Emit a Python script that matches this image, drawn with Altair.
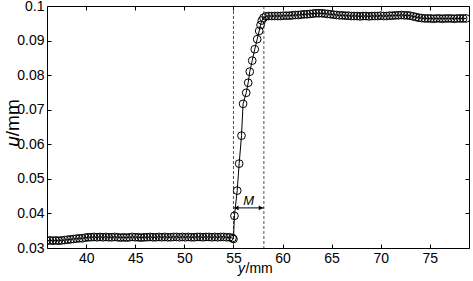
import altair as alt
import pandas as pd

FONT = "Liberation Sans"

# ---- data ----
low_y = [36.0, 36.3, 36.6, 36.9, 37.2, 37.5, 37.8,
         38.1, 38.4, 38.7, 39.0, 39.3, 39.6, 39.9,
         40.2, 40.5, 40.8, 41.1, 41.4, 41.7, 42.0, 42.3, 42.6, 42.9,
         43.2, 43.5, 43.8, 44.1, 44.4, 44.7, 45.0, 45.3, 45.6, 45.9,
         46.2, 46.5, 46.8, 47.1, 47.4, 47.7, 48.0, 48.3, 48.6, 48.9,
         49.2, 49.5, 49.8, 50.1, 50.4, 50.7, 51.0, 51.3, 51.6, 51.9,
         52.2, 52.5, 52.8, 53.1, 53.4, 53.7, 54.0, 54.3, 54.6, 54.9]
low_u = [0.0321, 0.0322, 0.0321, 0.0322, 0.0321, 0.0322, 0.0323,
         0.0324, 0.0325, 0.0326, 0.0327, 0.0328, 0.0328, 0.0330,
         0.0331, 0.0331, 0.0332, 0.0331, 0.0332, 0.0331, 0.0332, 0.0331, 0.0331, 0.0332,
         0.0331, 0.0330, 0.0331, 0.0330, 0.0331, 0.0332, 0.0331, 0.0331, 0.0330, 0.0331,
         0.0331, 0.0332, 0.0331, 0.0331, 0.0332, 0.0331, 0.0332, 0.0331, 0.0331, 0.0332,
         0.0332, 0.0331, 0.0332, 0.0331, 0.0332, 0.0331, 0.0331, 0.0332, 0.0332, 0.0331,
         0.0332, 0.0332, 0.0331, 0.0332, 0.0331, 0.0332, 0.0332, 0.0331, 0.0331, 0.0329]

rise_y = [55.0, 55.1, 55.38, 55.58, 55.82, 55.98, 56.3, 56.5, 56.66, 56.91,
          57.17, 57.42, 57.62, 57.76, 57.89, 58.06]
rise_u = [0.0326, 0.0393, 0.0466, 0.0544, 0.0625, 0.0717, 0.0749, 0.0778, 0.0810, 0.0842,
          0.0875, 0.0904, 0.0928, 0.0945, 0.0958, 0.0966]

high_y = [58.3, 58.6, 58.9, 59.2, 59.5, 59.8, 60.1, 60.4, 60.7, 61.0,
          61.3, 61.6, 61.9, 62.2, 62.5, 62.8, 63.1, 63.4, 63.7, 64.0,
          64.3, 64.6, 64.9, 65.2, 65.5, 65.8, 66.1, 66.4, 66.7, 67.0,
          67.3, 67.6, 67.9, 68.2, 68.5, 68.8, 69.1, 69.4, 69.7, 70.0,
          70.3, 70.6, 70.9, 71.2, 71.5, 71.8, 72.1, 72.4, 72.7, 73.0,
          73.3, 73.6, 73.9, 74.2, 74.5, 74.8, 75.1, 75.4, 75.7, 76.0,
          76.3, 76.6, 76.9, 77.2, 77.5, 77.8, 78.1, 78.4, 78.7]
high_u = [0.0970, 0.0971, 0.0971, 0.0971, 0.0971, 0.0971, 0.0972, 0.0972, 0.0972, 0.0973,
          0.0974, 0.0974, 0.0975, 0.0976, 0.0976, 0.0977, 0.0978, 0.0979, 0.0979, 0.0979,
          0.0978, 0.0977, 0.0976, 0.0975, 0.0974, 0.0973, 0.0973, 0.0972, 0.0972, 0.0971,
          0.0971, 0.0971, 0.0970, 0.0971, 0.0971, 0.0970, 0.0971, 0.0971, 0.0971, 0.0972,
          0.0971, 0.0971, 0.0972, 0.0972, 0.0973, 0.0973, 0.0974, 0.0973, 0.0973, 0.0972,
          0.0970, 0.0968, 0.0966, 0.0965, 0.0964, 0.0964, 0.0964, 0.0963, 0.0964, 0.0964,
          0.0963, 0.0964, 0.0964, 0.0964, 0.0963, 0.0964, 0.0964, 0.0964, 0.0964]

x_ticks = [40, 45, 50, 55, 60, 65, 70, 75]
y_ticks = [0.03, 0.04, 0.05, 0.06, 0.07, 0.08, 0.09, 0.1]
x_domain = [36, 79]
y_domain = [0.03, 0.1]

m_left, m_right = 55.0, 58.1      # dashed boundary lines
arrow_u = 0.0416
m_label = ("M", 56.55, 0.0437)

W, H = 422, 242

all_y = low_y + rise_y + high_y
all_u = low_u + rise_u + high_u
df = pd.DataFrame({"y": all_y, "u": all_u, "order": list(range(len(all_y)))})

xs = alt.Scale(domain=x_domain, nice=False, zero=False)
ys = alt.Scale(domain=y_domain, nice=False, zero=False)

common_lab = dict(labelFontSize=14, labelFont=FONT, labelColor="black",
                  grid=False, title=None, ticks=False, domain=False, labelOverlap=False)
x_lab = alt.Axis(orient="bottom", values=x_ticks, labelPadding=3, labelFlush=False, **common_lab)
y_lab = alt.Axis(orient="left", values=y_ticks, format=".2~f", labelPadding=3, **common_lab)

common_tick = dict(labels=False, ticks=True, tickSize=4, tickColor="black", tickWidth=1,
                   domain=False, grid=False, title=None)
x_t_bottom = alt.Axis(orient="top", offset=-H, values=x_ticks, **common_tick)
x_t_top = alt.Axis(orient="bottom", offset=-H, values=x_ticks, **common_tick)
y_t_left = alt.Axis(orient="right", offset=-W, values=y_ticks, **common_tick)
y_t_right = alt.Axis(orient="left", offset=-W, values=y_ticks, **common_tick)

line = alt.Chart(df).mark_line(color="black", strokeWidth=1).encode(
    x=alt.X("y:Q", scale=xs, axis=x_lab),
    y=alt.Y("u:Q", scale=ys, axis=y_lab),
    order="order:Q",
)
points = alt.Chart(df).mark_point(shape="circle", filled=False, color="black",
                                  size=60, strokeWidth=1, clip=True, opacity=1).encode(
    x=alt.X("y:Q", scale=xs, axis=None),
    y=alt.Y("u:Q", scale=ys, axis=None),
)
ticks1 = alt.Chart(df).mark_point(opacity=0).encode(
    x=alt.X("y:Q", scale=xs, axis=x_t_bottom),
    y=alt.Y("u:Q", scale=ys, axis=y_t_left),
)
ticks2 = alt.Chart(df).mark_point(opacity=0).encode(
    x=alt.X("y:Q", scale=xs, axis=x_t_top),
    y=alt.Y("u:Q", scale=ys, axis=y_t_right),
)

vdf = pd.DataFrame({"y": [m_left, m_right]})
vlines = alt.Chart(vdf).mark_rule(color="#222", strokeWidth=0.8, strokeDash=[3, 2]).encode(
    x=alt.X("y:Q", scale=xs, axis=None)
)

adf = pd.DataFrame({"y": [m_left], "y2": [m_right], "u": [arrow_u]})
arrow = alt.Chart(adf).mark_rule(color="black", strokeWidth=1).encode(
    x=alt.X("y:Q", scale=xs, axis=None), x2="y2:Q",
    y=alt.Y("u:Q", scale=ys, axis=None),
)
hl = alt.Chart(pd.DataFrame({"y": [m_left], "u": [arrow_u]})).mark_point(
    shape="triangle-left", filled=True, color="black", size=24, xOffset=3, opacity=1).encode(
    x=alt.X("y:Q", scale=xs, axis=None), y=alt.Y("u:Q", scale=ys, axis=None))
hr = alt.Chart(pd.DataFrame({"y": [m_right], "u": [arrow_u]})).mark_point(
    shape="triangle-right", filled=True, color="black", size=24, xOffset=-3, opacity=1).encode(
    x=alt.X("y:Q", scale=xs, axis=None), y=alt.Y("u:Q", scale=ys, axis=None))

mdf = pd.DataFrame({"t": [m_label[0]], "y": [m_label[1]], "u": [m_label[2]]})
mtext = alt.Chart(mdf).mark_text(font=FONT, fontSize=13, fontStyle="italic",
                                 baseline="middle", align="center", color="black").encode(
    x=alt.X("y:Q", scale=xs, axis=None), y=alt.Y("u:Q", scale=ys, axis=None), text="t:N")

one = pd.DataFrame({"a": [0]})
xt1 = alt.Chart(one).mark_text(text="y", font=FONT, fontSize=14, fontStyle="italic",
                               align="left", baseline="alphabetic", color="black").encode(
    x=alt.value(191), y=alt.value(267))
xt2 = alt.Chart(one).mark_text(text="/mm", font=FONT, fontSize=14,
                               align="left", baseline="alphabetic", color="black").encode(
    x=alt.value(198.5), y=alt.value(267))
yt1 = alt.Chart(one).mark_text(text="u", font=FONT, fontSize=19, fontStyle="italic", angle=270,
                               align="left", baseline="alphabetic", color="black").encode(
    x=alt.value(-28), y=alt.value(140.8))
yt2 = alt.Chart(one).mark_text(text="/mm", font=FONT, fontSize=19, angle=270,
                               align="left", baseline="alphabetic", color="black").encode(
    x=alt.value(-28), y=alt.value(130.2))

chart = alt.layer(
    vlines, arrow, hl, hr, line, points, mtext, ticks1, ticks2, xt1, xt2, yt1, yt2
).resolve_axis(x="independent", y="independent").properties(
    width=W, height=H,
    padding={"left": 47, "top": 6, "right": 4, "bottom": 33},
    autosize=alt.AutoSizeParams(type="none"),
    background="white",
).configure_view(stroke="black", strokeWidth=1)

chart.save("out.html", embed_options={"renderer": "svg", "actions": False})
